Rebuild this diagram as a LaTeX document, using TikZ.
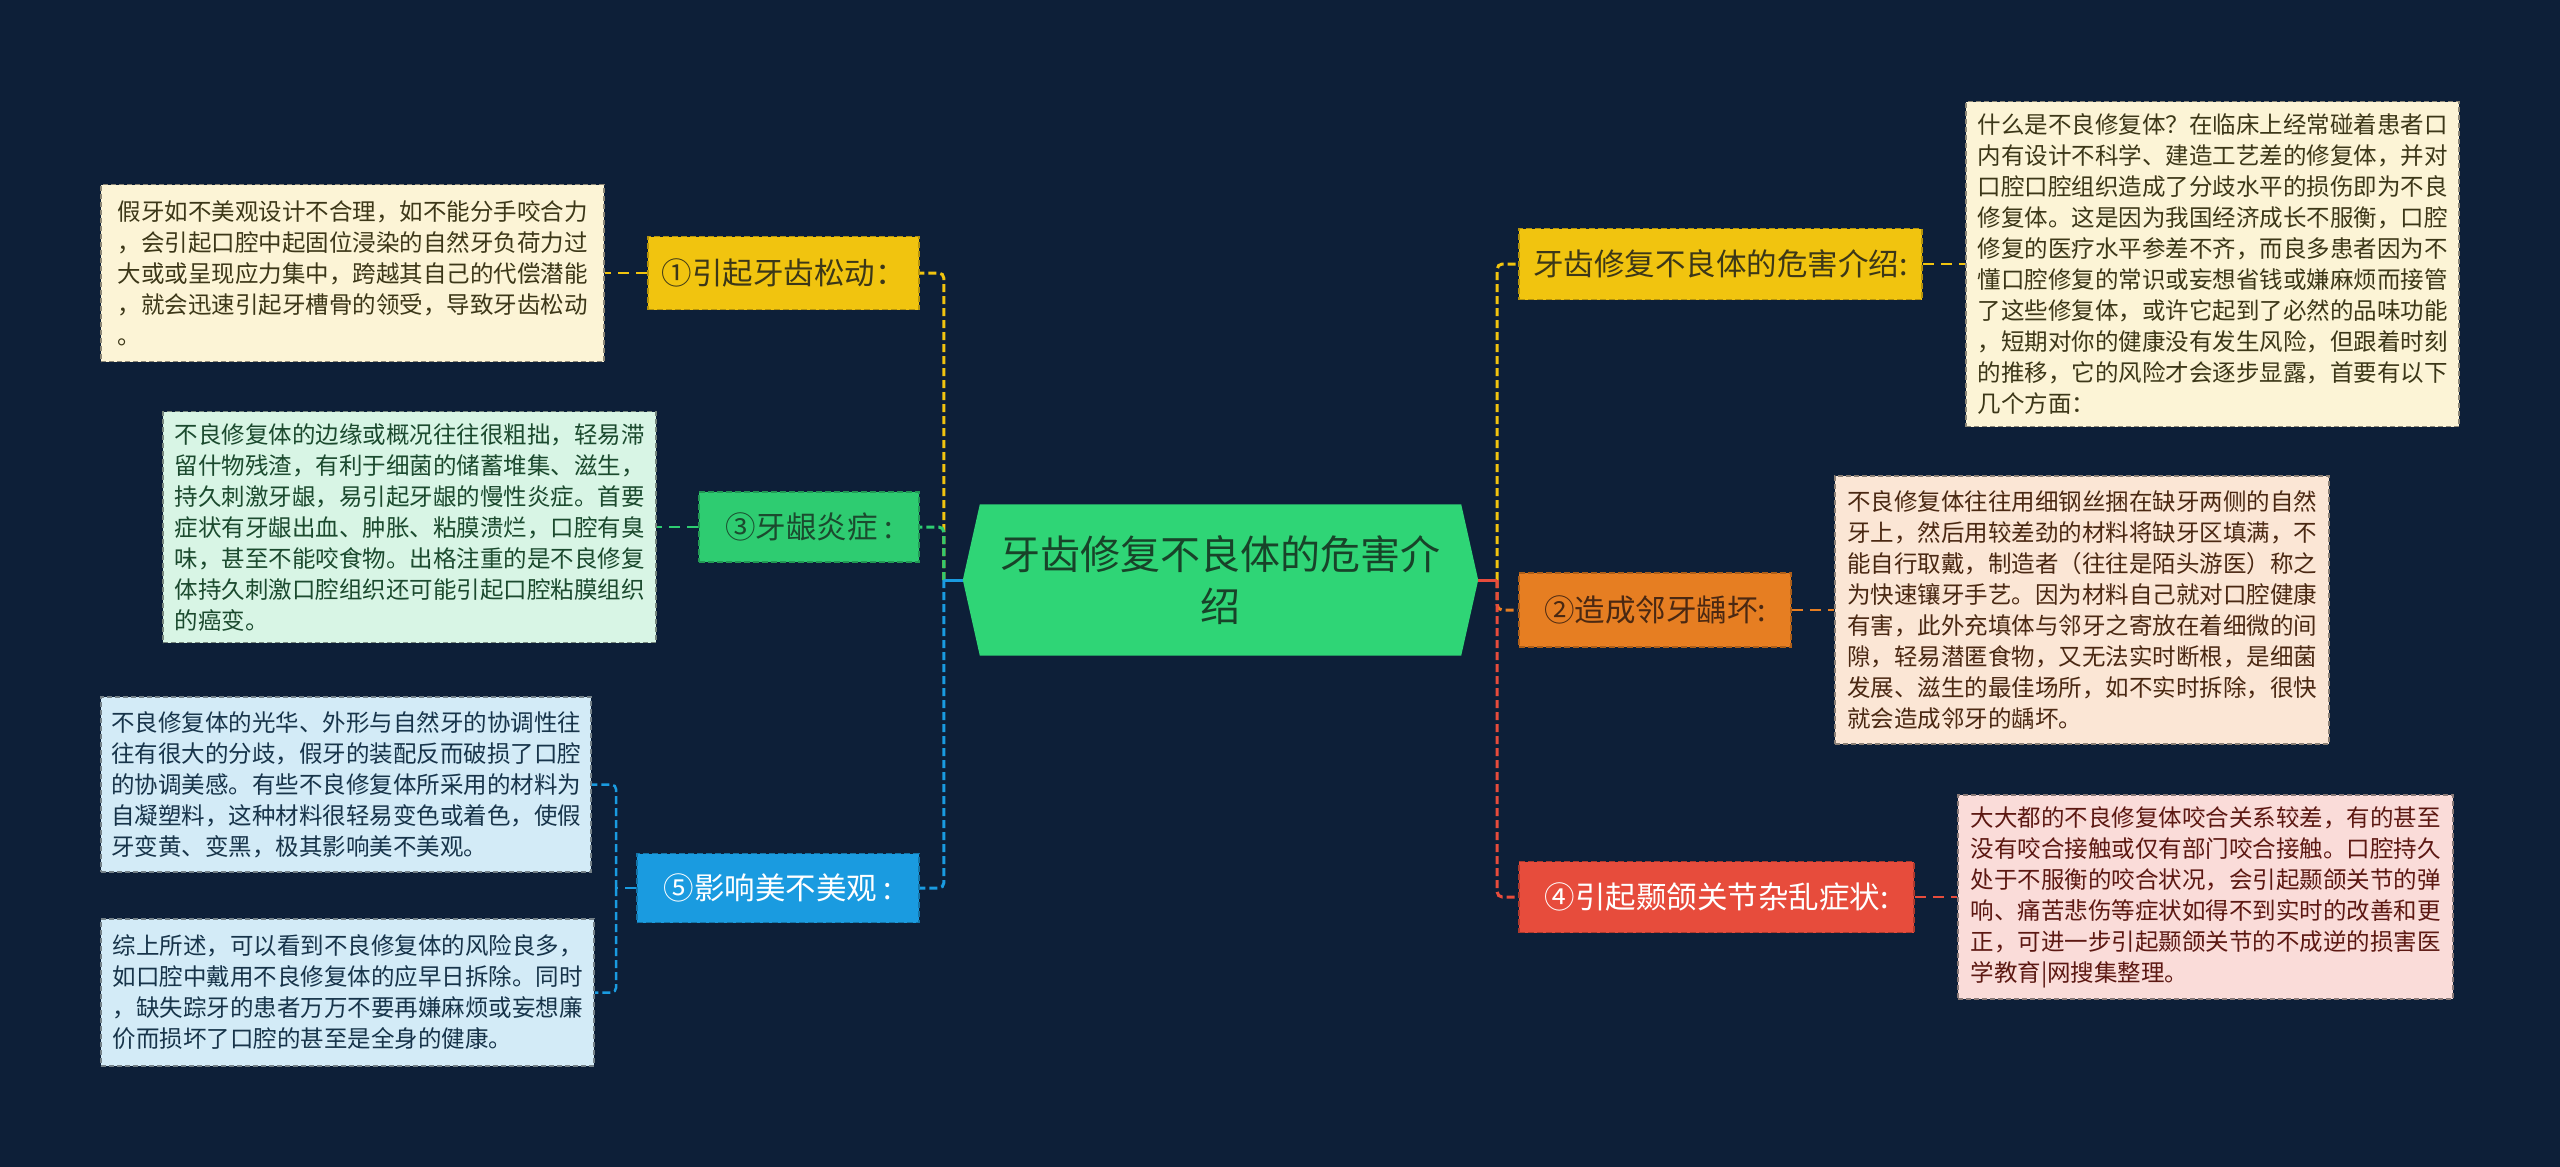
\documentclass[tikz,border=0pt]{standalone}
\usepackage{fontspec}
\newfontfamily\cjk{Noto Sans CJK SC}
\definecolor{bgc}{HTML}{0D1F38}
\definecolor{cgreen}{HTML}{2FD576}
\definecolor{cyel}{HTML}{F1C40F}
\definecolor{cgrn}{HTML}{2ECC71}
\definecolor{cblue}{HTML}{1A9BE0}
\definecolor{corg}{HTML}{E67E22}
\definecolor{cred}{HTML}{E74C3C}
\definecolor{lyel}{HTML}{FCF4D6}
\definecolor{lgrn}{HTML}{D8F5E5}
\definecolor{lblue}{HTML}{D3EBF7}
\definecolor{lorg}{HTML}{FBE6D5}
\definecolor{lred}{HTML}{FADCD9}
\definecolor{tyel}{HTML}{3C3718}
\definecolor{tgrn}{HTML}{1B4A2E}
\definecolor{tblue}{HTML}{17344A}
\definecolor{torg}{HTML}{4A2812}
\definecolor{tred}{HTML}{5C1812}
\begin{document}
\begin{tikzpicture}[x=1pt,y=-1pt,
  every node/.style={font=\cjk},
  tbox/.style={rectangle, draw=#1!55!black, dashed, dash pattern=on 5pt off 3pt,
    line width=1.6pt, align=left, inner sep=0pt,
    font=\cjk\fontsize{23.5}{31}\selectfont},
  lab/.style={rectangle, draw=#1!75!black, fill=#1, dashed, dash pattern=on 6pt off 3pt,
    line width=1.6pt, inner sep=0pt, font=\cjk\fontsize{30.5}{34}\selectfont},
  spine/.style={draw=#1, line width=3pt, dash pattern=on 8pt off 4pt, rounded corners=5pt},
  link/.style={draw=#1, line width=2.5pt, dash pattern=on 11pt off 7pt, rounded corners=5pt},
]
\fill[bgc] (0,0) rectangle (2560,1167);

% central node
\node[minimum width=515pt, minimum height=151pt, inner sep=0pt] (c) at (1220.5,580) {};
\fill[cgreen] (c.west) -- ([xshift=17pt]c.north west) -- ([xshift=-17pt]c.north east)
  -- (c.east) -- ([xshift=-17pt]c.south east) -- ([xshift=17pt]c.south west) -- cycle;
\node[align=center, text=tgrn!90!black, font=\cjk\fontsize{40}{52}\selectfont] (ct) at (c) {牙齿修复不良体的危害介\\绍};

% left labels
\node[lab=cyel, text=tyel, minimum width=271pt, minimum height=73pt] (L1) at (783.5,273) {①引起牙齿松动：};
\node[lab=cgrn, text=tgrn, minimum width=220pt, minimum height=70pt] (L3) at (809,527) {③牙龈炎症 :};
\node[lab=cblue, text=white, minimum width=282pt, minimum height=69pt] (L5) at (778,888) {⑤影响美不美观 :};

% left text boxes
\node[tbox=lyel, fill=lyel, text=tyel, minimum width=503pt, minimum height=177pt] (L1t) at (352.5,273) {假牙如不美观设计不合理，如不能分手咬合力\\，会引起口腔中起固位浸染的自然牙负荷力过\\大或或呈现应力集中，跨越其自己的代偿潜能\\，就会迅速引起牙槽骨的领受，导致牙齿松动\\。};
\node[tbox=lgrn, fill=lgrn, text=tgrn, minimum width=493pt, minimum height=231pt] (L3t) at (409.5,527) {不良修复体的边缘或概况往往很粗拙，轻易滞\\留什物残渣，有利于细菌的储蓄堆集、滋生，\\持久刺激牙龈，易引起牙龈的慢性炎症。首要\\症状有牙龈出血、肿胀、粘膜溃烂，口腔有臭\\味，甚至不能咬食物。出格注重的是不良修复\\体持久刺激口腔组织还可能引起口腔粘膜组织\\的癌变。};
\node[tbox=lblue, fill=lblue, text=tblue, minimum width=490pt, minimum height=175pt] (L5a) at (346,784.5) {不良修复体的光华、外形与自然牙的协调性往\\往有很大的分歧，假牙的装配反而破损了口腔\\的协调美感。有些不良修复体所采用的材料为\\自凝塑料，这种材料很轻易变色或着色，使假\\牙变黄、变黑，极其影响美不美观。};
\node[tbox=lblue, fill=lblue, text=tblue, minimum width=493pt, minimum height=147pt] (L5b) at (347.5,992.5) {综上所述，可以看到不良修复体的风险良多，\\如口腔中戴用不良修复体的应早日拆除。同时\\，缺失踪牙的患者万万不要再嫌麻烦或妄想廉\\价而损坏了口腔的甚至是全身的健康。};

% right labels
\node[lab=cyel, text=tyel, minimum width=403pt, minimum height=71pt] (R0) at (1720.5,264) {牙齿修复不良体的危害介绍:};
\node[lab=corg, text=torg, minimum width=272pt, minimum height=74pt] (R2) at (1655,610) {②造成邻牙龋坏:};
\node[lab=cred, text=white, minimum width=395pt, minimum height=71pt] (R4) at (1716.5,897) {④引起颞颌关节杂乱症状:};

% right text boxes
\node[tbox=lyel, fill=lyel, text=tyel, minimum width=493pt, minimum height=325pt] (R0t) at (2212.5,264) {什么是不良修复体？在临床上经常碰着患者口\\内有设计不科学、建造工艺差的修复体，并对\\口腔口腔组织造成了分歧水平的损伤即为不良\\修复体。这是因为我国经济成长不服衡，口腔\\修复的医疗水平参差不齐，而良多患者因为不\\懂口腔修复的常识或妄想省钱或嫌麻烦而接管\\了这些修复体，或许它起到了必然的品味功能\\，短期对你的健康没有发生风险，但跟着时刻\\的推移，它的风险才会逐步显露，首要有以下\\几个方面：};
\node[tbox=lorg, fill=lorg, text=torg, minimum width=494pt, minimum height=268pt] (R2t) at (2082,610) {不良修复体往往用细钢丝捆在缺牙两侧的自然\\牙上，然后用较差劲的材料将缺牙区填满，不\\能自行取戴，制造者（往往是陌头游医）称之\\为快速镶牙手艺。因为材料自己就对口腔健康\\有害，此外充填体与邻牙之寄放在着细微的间\\隙，轻易潜匿食物，又无法实时断根，是细菌\\发展、滋生的最佳场所，如不实时拆除，很快\\就会造成邻牙的龋坏。};
\node[tbox=lred, fill=lred, text=tred, minimum width=495pt, minimum height=204pt] (R4t) at (2205.5,897) {大大都的不良修复体咬合关系较差，有的甚至\\没有咬合接触或仅有部门咬合接触。口腔持久\\处于不服衡的咬合状况，会引起颞颌关节的弹\\响、痛苦悲伤等症状如得不到实时的改善和更\\正，可进一步引起颞颌关节的不成逆的损害医\\学教育|网搜集整理。};

% spine coordinates
\coordinate (ls) at ([xshift=-19pt]c.west);
\coordinate (rs) at ([xshift=19pt]c.east);
\coordinate (bs) at ([xshift=-20pt]L5.west);

% connectors left
\draw[spine=cyel] (ls) |- (L1.east);
\draw[spine=cgrn] (ls) |- (L3.east);
\draw[spine=cblue] (ls) |- (L5.east);
\draw[cblue, line width=3pt] (c.west) -- (ls);
\draw[link=cyel] (L1.west) -- (L1t.east);
\draw[link=cgrn] (L3.west) -- (L3t.east);
\draw[link=cblue] (L5.west) -- (bs);
\draw[spine=cblue, line width=2.5pt] (bs) |- (L5a.east);
\draw[spine=cblue, line width=2.5pt] (bs) |- (L5b.east);

% connectors right
\draw[spine=cyel] (rs) |- (R0.west);
\draw[spine=corg] (rs) |- (R2.west);
\draw[spine=cred] (rs) |- (R4.west);
\draw[cred, line width=3pt] (c.east) -- (rs);
\draw[link=cyel] (R0.east) -- (R0t.west);
\draw[link=corg] (R2.east) -- (R2t.west);
\draw[link=cred] (R4.east) -- (R4t.west);
\end{tikzpicture}
\end{document}
